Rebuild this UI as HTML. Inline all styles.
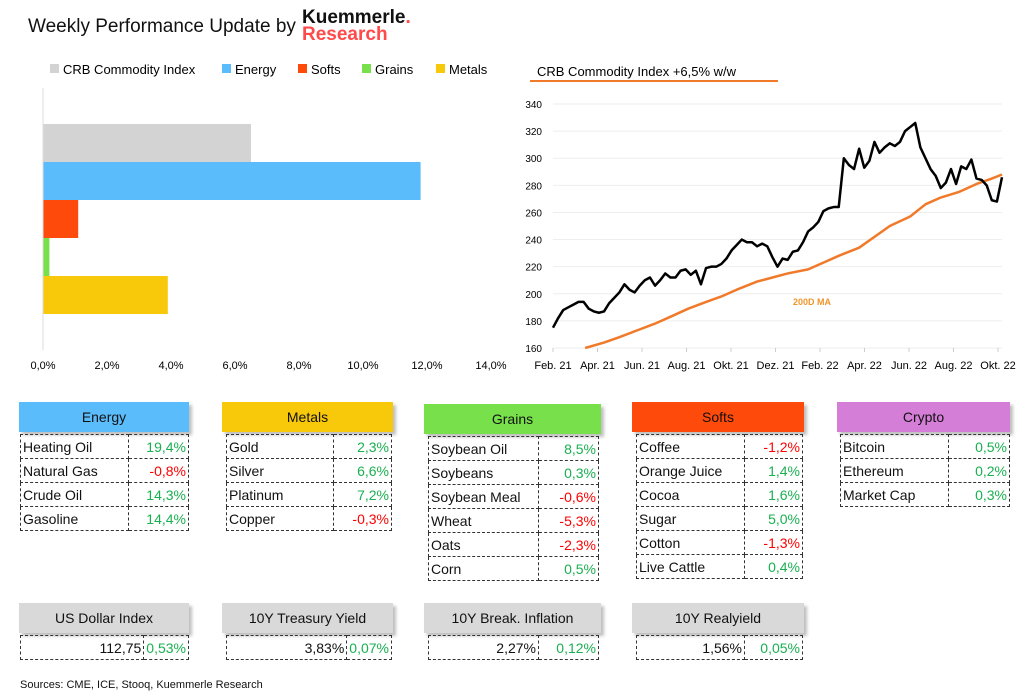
<!DOCTYPE html>
<html><head><meta charset="utf-8">
<style>
body{margin:0;width:1024px;height:700px;background:#fff;font-family:"Liberation Sans",sans-serif;position:relative;overflow:hidden;color:#111}
.abs{position:absolute}
.hdr{position:absolute;height:30px;line-height:30px;text-align:center;font-size:14px;box-shadow:3px 3px 3px rgba(0,0,0,0.25)}
.tbl{position:absolute;border-collapse:collapse;font-size:14px}
.tbl td{border:1px dashed #333;height:23px;padding:0 2px;white-space:nowrap}
.tbl td.v{text-align:right}
.g{color:#19b050}.r{color:#ff0000}
</style></head><body>
<div class="abs" style="left:28px;top:16px;font-size:19px">Weekly Performance Update by</div>
<div class="abs" style="left:302px;top:9px;font-weight:bold;font-size:19px;line-height:17px">Kuemmerle<span style="color:#ff4a4a">.</span><br><span style="color:#ff4a4a">Research</span></div>

<svg class="abs" style="left:0;top:0" width="1024" height="700">
<g id="bar"></g>
<g id="line"></g>
</svg>

<div id="tables"></div>
<div class="abs" style="left:20px;top:679px;font-size:11px">Sources: CME, ICE, Stooq, Kuemmerle Research</div>

<script>
const barCats=["CRB Commodity Index","Energy","Softs","Grains","Metals"];
const barVals=[6.5,11.8,1.1,0.2,3.9];
const barColors=["#d3d3d3","#5bbcfb","#fe4a0a","#77e04a","#f8c80a"];
const barTicks=[0,2,4,6,8,10,12,14];

const lineVals=[175,182,188,190,192,194,194,189,187,186,187,193,197,201,207,203,201,206,210,212,206,210,215,212,212,217,218,214,217,207,219,220,220,222,226,232,236,240,238,238,235,237,235,227,220,226,225,231,232,238,246,249,253,261,263,264,264,300,295,292,307,293,298,312,304,308,311,309,312,320,323,326,308,300,292,287,278,282,292,281,294,292,299,285,284,280,269,268,286];
const maIdx=[6.3,10,13,16.5,20,23,26.5,30,33,36,40,43,46,50,53,56,60,63,66,70,73,76,79.5,83,86,88];
const maVals=[160,164,168,173,178,183,189,194,198,203,209,212,215,218,223,228,234,242,250,257,266,271,275,281,285,288];
const yTicks=[160,180,200,220,240,260,280,300,320,340];
const xLabels=["Feb. 21","Apr. 21","Jun. 21","Aug. 21","Okt. 21","Dez. 21","Feb. 22","Apr. 22","Jun. 22","Aug. 22","Okt. 22"];

const NS="http://www.w3.org/2000/svg";
function mk(p,t,a){const e=document.createElementNS(NS,t);for(const k in a)e.setAttribute(k,a[k]);p.appendChild(e);return e;}

// bar chart
const bg=document.getElementById('bar');
const bx=v=>43+v*32;
const legX=[50,222,298,362,436];
barCats.forEach((c,i)=>{
  const r=mk(bg,'rect',{x:legX[i],y:64,width:9,height:9,fill:barColors[i]});
  
  
  const t=mk(bg,'text',{x:legX[i]+13,y:74,'font-size':13});t.textContent=c;
  
  
  const b=mk(bg,'rect',{x:bx(0),y:124+i*38,width:bx(barVals[i])-bx(0),height:38,fill:barColors[i]});
  
  
});
mk(bg,'line',{x1:43,y1:88,x2:43,y2:350,stroke:'#ddd'});
barTicks.forEach(v=>{
  const t=mk(bg,'text',{x:bx(v),y:369,'font-size':11,'text-anchor':'middle'});t.textContent=v.toFixed(1).replace('.',',')+'%';
  
  
});

// line chart
const lg=document.getElementById('line');
const ly=v=>348-(v-160)*(244/180);
const lx=i=>553+i*(449/(lineVals.length-1));
const tt=mk(lg,'text',{x:537,y:76,'font-size':13});tt.textContent="CRB Commodity Index +6,5% w/w";


mk(lg,'line',{x1:530,y1:81,x2:778,y2:81,stroke:'#f07a2a','stroke-width':2});
yTicks.forEach(v=>{
  mk(lg,'line',{x1:553,y1:ly(v),x2:1002,y2:ly(v),stroke:'#eee'});
  const t=mk(lg,'text',{x:542,y:ly(v)+4,'font-size':10,'text-anchor':'end'});t.textContent=v;
  
  
});
xLabels.forEach((l,i)=>{
  const x=553+i*(445/(xLabels.length-1));
  mk(lg,'line',{x1:x,y1:348,x2:x,y2:352,stroke:'#ccc'});
  const t=mk(lg,'text',{x:x,y:369,'font-size':11,'text-anchor':'middle'});t.textContent=l;
  
  
});
const ma=mk(lg,'polyline',{points:maIdx.map((ix,k)=>lx(ix)+','+ly(maVals[k])).join(' '),fill:'none',stroke:'#f07a2a','stroke-width':2.5,'stroke-linejoin':'round'});


const pl=mk(lg,'polyline',{points:lineVals.map((v,i)=>lx(i)+','+ly(v)).join(' '),fill:'none',stroke:'#000','stroke-width':2.5,'stroke-linejoin':'round'});


const mt=mk(lg,'text',{x:793,y:305,'font-size':9,'font-weight':'bold',fill:'#f0952a'});mt.textContent="200D MA";



// tables
const tables=[
 {t:"Energy",c:"#5bbcfb",hx:19,hw:170,hy:402,x:20,d:108,w:169,rows:[["Heating Oil","19,4%"],["Natural Gas","-0,8%"],["Crude Oil","14,3%"],["Gasoline","14,4%"]]},
 {t:"Metals",c:"#f8c80a",hx:222,hw:171,hy:402,x:226,d:107,w:166,rows:[["Gold","2,3%"],["Silver","6,6%"],["Platinum","7,2%"],["Copper","-0,3%"]]},
 {t:"Grains",c:"#77e04a",hx:424,hw:177,hy:404,x:428,d:110,w:171,rows:[["Soybean Oil","8,5%"],["Soybeans","0,3%"],["Soybean Meal","-0,6%"],["Wheat","-5,3%"],["Oats","-2,3%"],["Corn","0,5%"]]},
 {t:"Softs",c:"#fe4a0a",hx:632,hw:172,hy:402,x:636,d:108,w:167,rows:[["Coffee","-1,2%"],["Orange Juice","1,4%"],["Cocoa","1,6%"],["Sugar","5,0%"],["Cotton","-1,3%"],["Live Cattle","0,4%"]]},
 {t:"Crypto",c:"#d57ed8",hx:837,hw:173,hy:402,x:840,d:108,w:170,rows:[["Bitcoin","0,5%"],["Ethereum","0,2%"],["Market Cap","0,3%"]]},
 {t:"US Dollar Index",c:"#d9d9d9",hx:19,hw:170,hy:603,x:20,d:125,w:169,val:true,rows:[["112,75","0,53%"]]},
 {t:"10Y Treasury Yield",c:"#d9d9d9",hx:222,hw:171,hy:603,x:226,d:122,w:166,val:true,rows:[["3,83%","0,07%"]]},
 {t:"10Y Break. Inflation",c:"#d9d9d9",hx:424,hw:177,hy:603,x:428,d:110,w:171,val:true,rows:[["2,27%","0,12%"]]},
 {t:"10Y Realyield",c:"#d9d9d9",hx:632,hw:172,hy:603,x:636,d:108,w:167,val:true,rows:[["1,56%","0,05%"]]}
];
const host=document.getElementById('tables');
tables.forEach(T=>{
  const h=document.createElement('div');h.className='hdr';
  
  
  h.style.cssText=`left:${T.hx}px;top:${T.hy}px;width:${T.hw}px;background:${T.c}`;
  h.textContent=T.t;host.appendChild(h);
  const tb=document.createElement('table');tb.className='tbl';
  
  
  tb.style.cssText=`left:${T.x}px;top:${T.hy+32}px;width:${T.w}px;`;
  T.rows.forEach(r=>{
    const tr=document.createElement('tr');
    const a=document.createElement('td');a.style.width=(T.d-5)+'px';a.textContent=r[0];
    if(T.val)a.className='v';
    const b=document.createElement('td');b.className='v '+(r[1][0]=='-'?'r':'g');b.textContent=r[1];
    tr.appendChild(a);tr.appendChild(b);tb.appendChild(tr);
    
    
  });
  host.appendChild(tb);
});
</script>
</body></html>
